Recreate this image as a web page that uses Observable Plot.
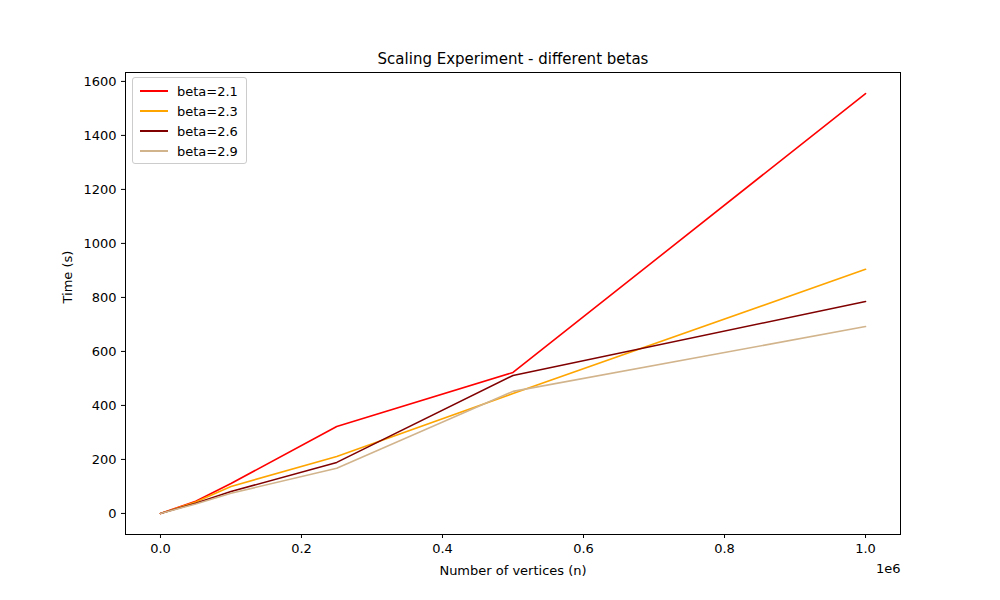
<!DOCTYPE html>
<html><head>
<script src="https://cdn.jsdelivr.net/npm/d3@7"></script>
<script src="https://cdn.jsdelivr.net/npm/@observablehq/plot@0.6"></script>
<style>
body{margin:0;background:#fff;font-family:"DejaVu Sans",sans-serif}
#wrap{position:relative;width:1000px;height:600px}
#legend{position:absolute;left:132px;top:77px;border:1px solid #ccc;border-radius:3px;background:#fff;padding:3px 8px 2px 7px;font-size:13px}
#legend div{display:flex;align-items:center;height:20px}
#legend span.sw{display:inline-block;width:28px;height:2px;margin-right:9px}
</style>
</head><body>
<div id="wrap"><div id="chart"></div><div id="legend"></div></div>
<script>
const vertices = [0, 50000, 100000, 250000, 500000, 1000000]
const betas = ['beta=2.1', 'beta=2.3', 'beta=2.6', 'beta=2.9']
const colors = ['#ff0000', '#ffa500', '#800000', '#d2b48c']
const times = [
  [0, 45, 111, 322, 522, 1555],
  [0, 42, 100, 211, 444, 904],
  [0, 38, 81, 189, 511, 785],
  [0, 35, 75, 167, 452, 692],
]

const rows = betas.flatMap((b, i) => vertices.map((v, j) => ({beta: b, n: v / 1e6, t: times[i][j]})))

const chart = Plot.plot({
  width: 1000, height: 600,
  marginLeft: 125, marginRight: 100, marginTop: 72, marginBottom: 66,
  style: {fontFamily: 'DejaVu Sans, sans-serif', fontSize: '13px', color: '#000'},
  x: {domain: [-0.0496, 1.0496], label: null},
  y: {domain: [-78, 1633], label: null},
  color: {domain: betas, range: colors},
  marks: [
    Plot.frame({stroke: '#000'}),
    Plot.axisX({ticks: [0, 0.2, 0.4, 0.6, 0.8, 1.0], tickFormat: d3.format('.1f'), tickSize: 4, fontSize: 13}),
    Plot.axisY({ticks: d3.range(0, 1601, 200), tickFormat: d3.format('d'), tickSize: 4, fontSize: 13}),
    Plot.line(rows, {x: 'n', y: 't', z: 'beta', stroke: 'beta', strokeWidth: 1.6}),
    Plot.text(['Scaling Experiment - different betas'], {frameAnchor: 'top', dy: -19, fontSize: 15}),
    Plot.text(['Number of vertices (n)'], {frameAnchor: 'bottom', dy: 40, fontSize: 13}),
    Plot.text(['1e6'], {frameAnchor: 'bottom-right', dy: 38, fontSize: 13, textAnchor: 'end'}),
    Plot.text(['Time (s)'], {frameAnchor: 'left', dx: -58, rotate: -90, fontSize: 13}),
  ],
})
d3.select('#chart').append(() => chart)

const lg = d3.select('#legend')
betas.forEach((b, i) => {
  const r = lg.append('div')
  r.append('span').attr('class', 'sw').style('background', colors[i])
  r.append('span').text(b)
})
</script>
</body></html>
